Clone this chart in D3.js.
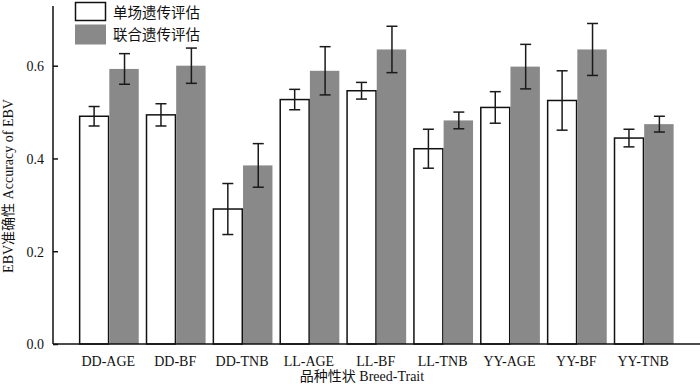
<!DOCTYPE html>
<html>
<head>
<meta charset="utf-8">
<script src="https://cdn.jsdelivr.net/npm/d3@7/dist/d3.min.js"></script>
<style>
  html, body { margin: 0; padding: 0; background: #fff; }
  svg { display: block; }
  text { font-family: "Liberation Serif", "Times New Roman", serif; fill: #111; }
  text.cjk { font-family: "Liberation Serif", "Times New Roman", "Noto Sans CJK SC", serif; }
</style>
</head>
<body>
<svg id="chart" width="700" height="384"></svg>
<script>
const categories = ["DD-AGE","DD-BF","DD-TNB","LL-AGE","LL-BF","LL-TNB","YY-AGE","YY-BF","YY-TNB"];
const seriesNames = ["单场遗传评估","联合遗传评估"];
const singleVals = [0.491, 0.494, 0.291, 0.527, 0.546, 0.421, 0.510, 0.525, 0.444];
const singleErr  = [0.021, 0.024, 0.055, 0.022, 0.018, 0.042, 0.034, 0.064, 0.019];
const jointVals  = [0.593, 0.600, 0.385, 0.589, 0.635, 0.482, 0.598, 0.635, 0.474];
const jointErr   = [0.033, 0.038, 0.047, 0.052, 0.050, 0.018, 0.048, 0.056, 0.017];
const yTicks = [0.0, 0.2, 0.4, 0.6];
const xTitle = "品种性状 Breed-Trait";
const yTitle = "EBV准确性 Accuracy of EBV";

const svg = d3.select("#chart");
const x0 = 53, yTop = 6, yBottom = 344, xRight = 700;

const x = d3.scaleBand().domain(categories).range([78.9, 674.6]).paddingInner(0.09).paddingOuter(0);
const xs = d3.scaleBand().domain([0,1]).range([0, x.bandwidth()]).padding(0);
const y = d3.scaleLinear().domain([0, 0.7287]).range([yBottom, yTop]);

const series = [
  {vals: singleVals, err: singleErr, fill: "#ffffff", stroke: "#111", sw: 1.5},
  {vals: jointVals, err: jointErr, fill: "#898989", stroke: "none", sw: 0}
];

const g = svg.append("g");

series.forEach((s, si) => {
  const grp = g.append("g");
  categories.forEach((c, i) => {
    const bx = x(c) + xs(si);
    const bw = xs.bandwidth();
    if (si === 0) {
      grp.append("rect")
        .attr("x", bx + 0.75).attr("y", y(s.vals[i]))
        .attr("width", bw - 1.5).attr("height", y(0) - y(s.vals[i]))
        .attr("fill", s.fill).attr("stroke", s.stroke).attr("stroke-width", s.sw);
    } else {
      grp.append("rect")
        .attr("x", bx).attr("y", y(s.vals[i]))
        .attr("width", bw - 1).attr("height", y(0) - y(s.vals[i]))
        .attr("fill", s.fill);
    }
  });
});

// error bars
series.forEach((s, si) => {
  categories.forEach((c, i) => {
    const cx = x(c) + xs(si) + xs.bandwidth() / 2;
    const hi = y(s.vals[i] + s.err[i]), lo = y(s.vals[i] - s.err[i]);
    const cap = 5.5;
    const eg = g.append("g").attr("stroke", "#1a1a1a").attr("stroke-width", 1.5);
    eg.append("line").attr("x1", cx).attr("x2", cx).attr("y1", hi).attr("y2", lo);
    eg.append("line").attr("x1", cx - cap).attr("x2", cx + cap).attr("y1", hi).attr("y2", hi);
    eg.append("line").attr("x1", cx - cap).attr("x2", cx + cap).attr("y1", lo).attr("y2", lo);
  });
});

// y axis
const yAxis = d3.axisRight(y).tickValues(yTicks).tickFormat(d3.format(".1f")).tickSize(5).tickPadding(0);
const ya = svg.append("g").attr("transform", `translate(${x0},0)`).call(yAxis).attr("font-family", null);
ya.select(".domain").remove();
ya.selectAll(".tick line").attr("stroke", "#111").attr("stroke-width", 1.5);
ya.selectAll(".tick text").attr("x", -9).attr("text-anchor", "end")
  .style("font-size", "14px").attr("dy", "0.35em");
svg.append("line").attr("x1", x0).attr("x2", x0).attr("y1", yTop).attr("y2", yBottom)
  .attr("stroke", "#111").attr("stroke-width", 1.5);

// x axis
const xAxis = d3.axisBottom(x).tickSize(0).tickPadding(12);
const xa = svg.append("g").attr("transform", `translate(0,${yBottom})`).call(xAxis).attr("font-family", null);
xa.select(".domain").remove();
xa.selectAll(".tick text").style("font-size", "14px").attr("dy", "0.71em").attr("dx", "-1");
svg.append("line").attr("x1", x0).attr("x2", xRight).attr("y1", yBottom).attr("y2", yBottom)
  .attr("stroke", "#111").attr("stroke-width", 1.5);

// axis titles
svg.append("text").attr("class", "cjk").attr("x", 362).attr("y", 381).attr("text-anchor", "middle")
  .style("font-size", "14px").text(xTitle);
svg.append("text").attr("class", "cjk").attr("transform", "translate(13,186) rotate(-90)").attr("text-anchor", "middle")
  .style("font-size", "14px").text(yTitle);

// legend
const legend = svg.append("g");
const legY = [2.5, 24.5];
seriesNames.forEach((n, i) => {
  if (i === 0) {
    legend.append("rect").attr("x", 75.5).attr("y", legY[i]).attr("width", 30).attr("height", 18)
      .attr("fill", "#fff").attr("stroke", "#111").attr("stroke-width", 1.5);
  } else {
    legend.append("rect").attr("x", 75).attr("y", legY[i]).attr("width", 31).attr("height", 20)
      .attr("fill", "#898989");
  }
  legend.append("text").attr("class", "cjk").attr("x", 113).attr("y", legY[i] + 10).attr("dy", "0.35em")
    .style("font-size", "14.5px").text(n);
});
</script>
</body>
</html>
